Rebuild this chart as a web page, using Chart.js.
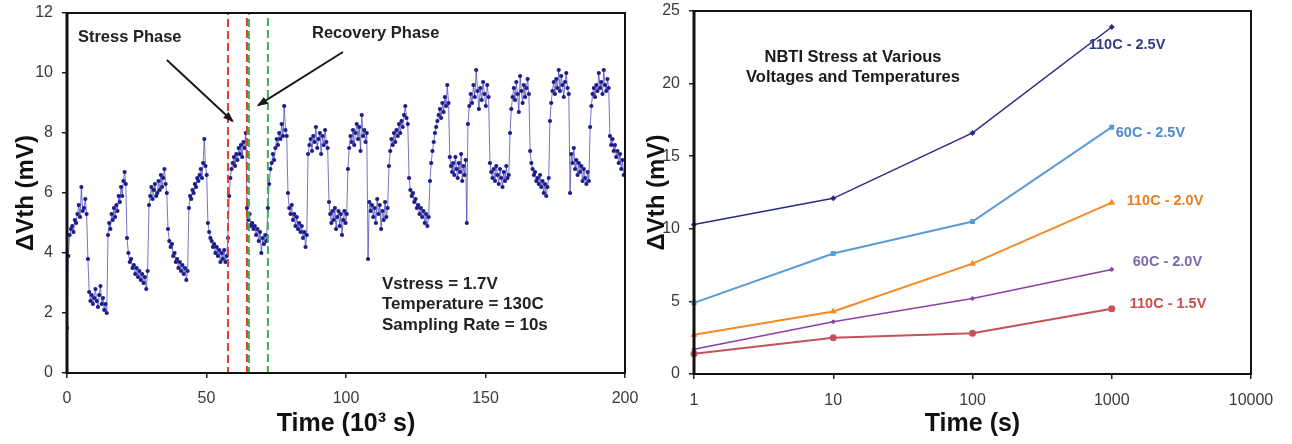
<!DOCTYPE html>
<html>
<head>
<meta charset="utf-8">
<script src="https://cdn.jsdelivr.net/npm/chart.js@4.4.1/dist/chart.umd.min.js"></script>
<style>
  body { margin: 0; background: #fff; }
  #wrap { position: relative; width: 1292px; height: 444px; }
  canvas { position: absolute; top: 0; }
  #stressChart { left: 0; }
  #nbtiChart { left: 645px; }
</style>
</head>
<body>
<div id="wrap">
  <canvas id="stressChart" width="645" height="444"></canvas>
  <canvas id="nbtiChart" width="647" height="444"></canvas>
</div>
<script>
// --- stress / recovery trace (time in 10^3 s, dVth in mV) ---
// phase boundaries: stress, recovery, stress, ...
const phaseEdgesK = [0, 7.5, 14.7, 21.5, 29.4, 36.2, 43.7, 50.5, 57.7, 64.5, 72.0, 79.2,
  86.4, 93.9, 100.7, 107.9, 115.4, 122.6, 130.1, 137.2, 143.7, 151.6, 158.8, 166.0,
  173.1, 180.3, 187.5, 194.6, 200];

// readings inside each phase, evenly spaced in time
const phaseReadings = [
  [1.5, 3.9, 4.6, 4.8, 4.9, 4.7, 5.1, 5.0, 5.3, 5.6, 5.2, 6.2, 5.4, 5.5, 5.8, 5.3],
  [3.8, 2.7, 2.4, 2.6, 2.3, 2.5, 2.8, 2.4, 2.2, 2.6, 2.9, 2.3, 2.5, 2.1, 2.3, 2.0],
  [4.6, 5.0, 4.8, 5.3, 5.1, 5.5, 5.2, 5.6, 5.4, 5.9, 5.7, 6.2, 5.9, 6.4, 6.7, 6.3],
  [4.5, 4.0, 3.7, 3.8, 3.5, 3.6, 3.3, 3.5, 3.2, 3.4, 3.1, 3.3, 3.0, 3.2, 2.8, 3.4],
  [5.6, 5.9, 6.2, 5.8, 6.1, 6.3, 5.9, 6.0, 6.4, 6.1, 6.6, 6.2, 6.5, 6.8, 6.3, 6.0],
  [4.8, 4.4, 4.2, 4.3, 3.9, 4.0, 3.7, 3.8, 3.5, 3.7, 3.4, 3.6, 3.3, 3.5, 3.1, 3.4],
  [5.5, 5.9, 5.8, 6.1, 6.0, 6.3, 6.2, 6.5, 6.4, 6.6, 6.8, 6.5, 7.0, 7.8, 6.9, 6.6],
  [5.0, 4.7, 4.5, 4.4, 4.2, 4.3, 4.0, 4.2, 3.9, 4.1, 3.7, 4.0, 3.8, 4.1, 3.7, 3.9],
  [4.5, 5.9, 6.5, 6.8, 7.0, 7.2, 6.9, 7.3, 7.1, 7.5, 7.3, 7.6, 7.2, 7.7, 7.5, 8.0],
  [5.5, 5.1, 5.3, 4.9, 5.0, 4.8, 4.9, 4.6, 4.8, 4.4, 4.7, 4.0, 4.5, 4.3, 4.6, 4.4],
  [5.5, 6.3, 6.8, 7.0, 7.3, 7.1, 7.5, 7.8, 7.6, 8.0, 7.8, 8.3, 7.9, 8.9, 8.1, 7.9],
  [6.0, 5.5, 5.3, 5.6, 5.1, 5.3, 4.9, 5.2, 4.8, 5.0, 4.7, 4.9, 4.5, 4.7, 4.2, 4.6],
  [7.3, 7.6, 7.8, 7.4, 7.9, 7.7, 8.2, 7.5, 7.8, 8.0, 7.3, 7.9, 7.6, 8.1, 7.7, 7.5],
  [5.7, 5.3, 5.0, 5.4, 5.1, 5.5, 4.8, 5.2, 5.4, 4.9, 5.3, 4.6, 5.1, 5.4, 5.0, 5.3],
  [6.8, 7.5, 7.9, 7.7, 8.1, 7.6, 8.0, 8.3, 7.8, 8.2, 7.4, 8.6, 7.9, 8.1, 7.7, 8.0],
  [3.8, 5.7, 5.4, 5.6, 5.2, 5.5, 5.0, 5.8, 5.3, 5.6, 4.8, 5.4, 5.1, 5.7, 5.2, 5.5],
  [6.9, 7.4, 7.8, 7.6, 8.0, 7.7, 8.1, 7.9, 8.3, 8.0, 8.4, 8.2, 8.6, 8.9, 8.5, 8.3],
  [6.5, 6.1, 5.9, 6.0, 5.7, 5.8, 5.5, 5.6, 5.3, 5.5, 5.2, 5.4, 5.0, 5.3, 4.9, 5.2],
  [6.4, 7.0, 7.4, 7.7, 8.0, 8.2, 8.4, 8.6, 8.8, 8.5, 9.0, 8.7, 9.2, 8.9, 9.6, 9.0],
  [7.2, 6.9, 6.7, 7.0, 6.6, 7.2, 6.8, 6.5, 7.0, 6.7, 7.3, 6.4, 6.9, 6.6, 7.1, 5.0],
  [8.3, 8.9, 9.3, 9.0, 9.6, 9.2, 10.1, 9.4, 8.8, 9.5, 9.1, 9.7, 9.3, 8.9, 9.6, 9.2],
  [7.0, 6.7, 6.5, 6.8, 6.4, 6.9, 6.6, 6.3, 6.8, 6.5, 6.2, 6.7, 6.4, 6.9, 6.5, 6.6],
  [8.0, 8.8, 9.2, 9.5, 9.1, 9.7, 9.3, 8.7, 9.9, 9.4, 9.0, 9.6, 9.2, 9.5, 9.8, 9.3],
  [7.4, 7.0, 6.8, 6.6, 6.7, 6.4, 6.5, 6.3, 6.6, 6.2, 6.4, 6.0, 6.3, 5.9, 6.2, 6.5],
  [8.4, 9.0, 9.4, 9.7, 9.3, 9.8, 9.5, 10.1, 9.4, 9.9, 9.6, 9.2, 9.7, 10.0, 9.5, 9.3],
  [6.0, 7.3, 7.0, 7.5, 6.8, 7.1, 6.6, 7.0, 6.7, 6.9, 6.4, 6.8, 6.5, 6.3, 6.7, 6.4],
  [8.2, 8.9, 9.3, 9.5, 9.2, 9.6, 9.4, 10.0, 9.5, 9.7, 9.3, 10.1, 9.6, 9.4, 9.8, 9.5],
  [7.9, 7.6, 7.8, 7.4, 7.6, 7.2, 7.4, 7.0, 7.3, 6.8, 7.1, 6.6]
];

// --- NBTI stress curves (time in s, dVth in mV) ---
const timeS = [1, 10, 100, 1000];
const dv110c25 = [10.3, 12.1, 16.6, 23.9];
const dv60c25 = [4.9, 8.3, 10.5, 17.0];
const dv110c20 = [2.7, 4.3, 7.6, 11.8];
const dv60c20 = [1.7, 3.6, 5.2, 7.2];
const dv110c15 = [1.4, 2.5, 2.8, 4.5];
const seriesNames = ['110C - 2.5V', '60C - 2.5V', '110C - 2.0V', '60C - 2.0V', '110C - 1.5V'];
const logTicksS = [1, 10, 100, 1000, 10000];

Chart.defaults.font.family = '"Liberation Sans", Arial, sans-serif';

const stressPoints = [];
phaseReadings.forEach((vals, p) => {
  const t0 = phaseEdgesK[p], t1 = phaseEdgesK[p + 1];
  vals.forEach((v, i) => stressPoints.push({ x: t0 + (t1 - t0) * i / vals.length, y: v }));
});

// fixed axis size; label overhang is left to layout.padding
function fixSize(size) {
  return s => {
    if (s.isHorizontal()) s.height = size; else s.width = size;
    s.paddingTop = s.paddingBottom = s.paddingLeft = s.paddingRight = 0;
  };
}

// box around the plot area, heavier on the left
const frame = {
  id: 'frame',
  afterDraw(chart) {
    const { ctx, chartArea: a } = chart;
    ctx.save();
    ctx.strokeStyle = '#111';
    ctx.lineWidth = 2;
    ctx.strokeRect(a.left, a.top, a.right - a.left, a.bottom - a.top);
    ctx.lineWidth = 3;
    ctx.beginPath();
    ctx.moveTo(a.left, a.top - 1);
    ctx.lineTo(a.left, a.bottom + 1);
    ctx.stroke();
    ctx.restore();
  }
};

function arrow(ctx, x0, y0, x1, y1) {
  ctx.beginPath();
  ctx.moveTo(x0, y0);
  ctx.lineTo(x1, y1);
  ctx.stroke();
  const ang = Math.atan2(y1 - y0, x1 - x0);
  const c = Math.cos(ang), s = Math.sin(ang);
  ctx.beginPath();
  ctx.moveTo(x1 + 2 * c, y1 + 2 * s);
  ctx.lineTo(x1 - 9 * c + 4 * s, y1 - 9 * s - 4 * c);
  ctx.lineTo(x1 - 9 * c - 4 * s, y1 - 9 * s + 4 * c);
  ctx.closePath();
  ctx.fill();
}

const stressOverlay = {
  id: 'stressOverlay',
  afterDatasetsDraw(chart) {
    const { ctx, scales: { x, y }, chartArea: a } = chart;
    ctx.save();
    // dashed windows for one stress and one recovery phase
    ctx.lineWidth = 2;
    ctx.setLineDash([8, 4]);
    [[57.7, 64.5, '#ea3a30'], [65.2, 72.0, '#35b552']].forEach(([t0, t1, col]) => {
      const x0 = x.getPixelForValue(t0), x1 = x.getPixelForValue(t1);
      ctx.strokeStyle = col;
      ctx.strokeRect(x0, a.top, x1 - x0, a.bottom - a.top);
    });
    ctx.setLineDash([]);

    ctx.strokeStyle = '#1a1a1a';
    ctx.fillStyle = '#1a1a1a';
    ctx.lineWidth = 2;
    arrow(ctx, x.getPixelForValue(35.8), y.getPixelForValue(10.43), x.getPixelForValue(59.3), y.getPixelForValue(8.4));
    arrow(ctx, x.getPixelForValue(98.9), y.getPixelForValue(10.7), x.getPixelForValue(68.6), y.getPixelForValue(8.93));

    ctx.fillStyle = '#222';
    ctx.textBaseline = 'middle';
    ctx.textAlign = 'left';
    ctx.font = 'bold 16.5px "Liberation Sans", Arial, sans-serif';
    ctx.fillText('Stress Phase', x.getPixelForValue(3.9), y.getPixelForValue(11.17));
    ctx.fillText('Recovery Phase', x.getPixelForValue(87.8), y.getPixelForValue(11.33));
    ctx.font = 'bold 17px "Liberation Sans", Arial, sans-serif';
    const left = x.getPixelForValue(112.9);
    ctx.fillText('Vstress = 1.7V', left, y.getPixelForValue(2.97));
    ctx.fillText('Temperature = 130C', left, y.getPixelForValue(2.3));
    ctx.fillText('Sampling Rate = 10s', left, y.getPixelForValue(1.6));
    ctx.restore();
  }
};

const tickFont = { size: 16 };
const tickColor = '#3a3a3a';
const axisGrid = { drawOnChartArea: false, tickLength: 5, color: '#222', lineWidth: 1.5 };

new Chart(document.getElementById('stressChart'), {
  type: 'line',
  data: {
    datasets: [{
      data: stressPoints,
      borderColor: 'rgba(60, 60, 170, 0.7)',
      borderWidth: 1,
      pointRadius: 2.1,
      pointBackgroundColor: '#1c1c8c',
      pointBorderWidth: 0,
      tension: 0
    }]
  },
  options: {
    responsive: false,
    animation: false,
    layout: { padding: { top: 13, right: 20 } },
    plugins: { legend: { display: false }, tooltip: { enabled: false } },
    scales: {
      x: {
        type: 'linear', min: 0, max: 200,
        afterFit: fixSize(71),
        ticks: { stepSize: 50, color: tickColor, font: tickFont, padding: 11, maxRotation: 0 },
        grid: axisGrid,
        border: { display: false },
        title: { display: true, text: 'Time (10³ s)', color: '#111',
          font: { size: 25, weight: 'bold', lineHeight: 1 }, padding: { bottom: 7 } }
      },
      y: {
        min: 0, max: 12,
        afterFit: fixSize(67),
        ticks: { stepSize: 2, color: tickColor, font: tickFont, padding: 9 },
        grid: axisGrid,
        border: { display: false },
        title: { display: true, text: 'ΔVth (mV)', color: '#111',
          font: { size: 24, weight: 'bold', lineHeight: 1 }, padding: { top: 14 } }
      }
    }
  },
  plugins: [stressOverlay, frame]
});

// --- right panel ---
const curveStyles = [
  { line: '#2b2b82', text: '#2f3d7e', shape: 'rectRot', r: 3, w: 1.5, dx: -23, dy: 18 },
  { line: '#5b9bd5', text: '#4b8acb', shape: 'rect', r: 3.5, w: 2, dx: 4, dy: 6 },
  { line: '#f28b26', text: '#ea7e1f', shape: 'triangle', r: 4, w: 2, dx: 15, dy: -2 },
  { line: '#8e40a4', text: '#7c6aa6', shape: 'rectRot', r: 2.6, w: 1.5, dx: 21, dy: -7 },
  { line: '#c5525a', text: '#c7504f', shape: 'circle', r: 3.5, w: 2, dx: 18, dy: -5 }
];
const curveValues = [dv110c25, dv60c25, dv110c20, dv60c20, dv110c15];

const nbtiOverlay = {
  id: 'nbtiOverlay',
  afterDatasetsDraw(chart) {
    const { ctx, chartArea: a } = chart;
    ctx.save();
    ctx.textBaseline = 'middle';
    ctx.textAlign = 'center';
    ctx.fillStyle = '#1a1a1a';
    ctx.font = 'bold 16.5px "Liberation Sans", Arial, sans-serif';
    const cx = a.left + 159;
    ctx.fillText('NBTI Stress at Various', cx, 57);
    ctx.fillText('Voltages and Temperatures', cx, 77);

    ctx.textAlign = 'left';
    ctx.font = 'bold 14.5px "Liberation Sans", Arial, sans-serif';
    chart.data.datasets.forEach((ds, i) => {
      const meta = chart.getDatasetMeta(i);
      const last = meta.data[meta.data.length - 1];
      const st = curveStyles[i];
      ctx.fillStyle = st.text;
      ctx.fillText(ds.label, last.x + st.dx, last.y + st.dy);
    });
    ctx.restore();
  }
};

new Chart(document.getElementById('nbtiChart'), {
  type: 'line',
  data: {
    datasets: curveValues.map((vals, i) => ({
      label: seriesNames[i],
      data: vals.map((v, k) => ({ x: timeS[k], y: v })),
      borderColor: curveStyles[i].line,
      backgroundColor: curveStyles[i].line,
      borderWidth: curveStyles[i].w,
      pointStyle: curveStyles[i].shape,
      pointRadius: curveStyles[i].r,
      pointBorderWidth: 0,
      tension: 0,
      clip: false
    }))
  },
  options: {
    responsive: false,
    animation: false,
    layout: { padding: { top: 11, right: 41 } },
    plugins: { legend: { display: false }, tooltip: { enabled: false } },
    scales: {
      x: {
        type: 'logarithmic', min: 1, max: 10000,
        afterFit: fixSize(70),
        afterBuildTicks: s => { s.ticks = logTicksS.map(v => ({ value: v })); },
        ticks: { color: tickColor, font: tickFont, padding: 12, maxRotation: 0, callback: v => String(v) },
        grid: axisGrid,
        border: { display: false },
        title: { display: true, text: 'Time (s)', color: '#111',
          font: { size: 25, weight: 'bold', lineHeight: 1 }, padding: { bottom: 7 } }
      },
      y: {
        min: 0, max: 25,
        afterFit: fixSize(49),
        ticks: { stepSize: 5, color: tickColor, font: tickFont, padding: 9 },
        grid: axisGrid,
        border: { display: false },
        title: { display: true, text: 'ΔVth (mV)', color: '#111',
          font: { size: 24, weight: 'bold', lineHeight: 1 }, padding: { top: 0 } }
      }
    }
  },
  plugins: [nbtiOverlay, frame]
});
</script>
</body>
</html>
